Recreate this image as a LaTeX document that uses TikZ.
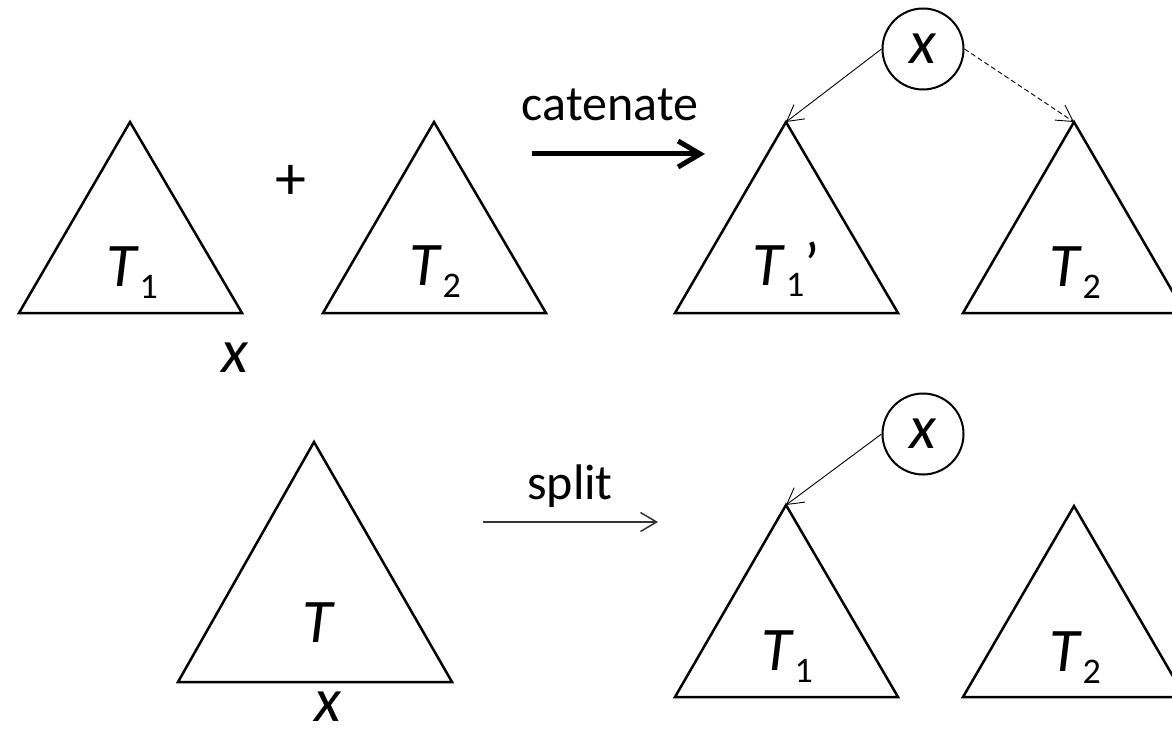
\documentclass[tikz,border=0pt]{standalone}
\usepackage{fontspec}
\setmainfont{Carlito}
\usetikzlibrary{arrows.meta}
\newcommand\Tsub[2][]{\textit{T}\kern1pt\lower12pt\hbox{\fontsize{36}{36}\selectfont #2}#1}
\begin{document}
\begin{tikzpicture}[x=1pt,y=-1pt,
  tri/.style={line width=2.5pt, line join=miter},
  lab/.style={font=\fontsize{62}{62}\selectfont, anchor=base, inner sep=0pt},
  ital/.style={font=\fontsize{62}{62}\selectfont\itshape, inner sep=0pt},
  word/.style={font=\fontsize{50}{50}\selectfont, anchor=base, inner sep=0pt},
  vert/.style={circle, draw, line width=2pt, minimum size=81pt, inner sep=0pt, font=\fontsize{62}{62}\selectfont\itshape},
  edge/.style={line width=0.9pt, -{Straight Barb[length=16pt,width=18pt]}},
  thinarrow/.style={line width=1.5pt, draw=black!80, -{Straight Barb[length=16pt,width=19pt]}},
  thickarrow/.style={line width=5pt, -{Straight Barb[length=22pt,width=26pt]}},
]
\clip (0,0) rectangle (1172,735);
\fill[white] (0,0) rectangle (1172,735);

% ---------- top row ----------
\coordinate (a1) at (130,122);
\draw[tri] (a1) -- (19,313) -- (242,313) -- cycle;
\node[lab] (l1) at (132,287) {\Tsub{1}};
\node[lab, anchor=center] (plus) at (291,182) {+};
\node[ital] (x1) at (235,358) {x};

\coordinate (a2) at (434,122);
\draw[tri] (a2) -- (323,313) -- (546,313) -- cycle;
\node[lab] (l2) at (435,286) {\Tsub{2}};

\node[word] (cat) at (610,121) {catenate};
\coordinate (cs) at (532,154);
\coordinate (ce) at (705,154);
\draw[thickarrow] (cs) -- (ce);

\coordinate (a3) at (786,122);
\draw[tri] (a3) -- (675,313) -- (898,313) -- cycle;
\node[lab] (l3) at (786,285) {\Tsub[’]{1}};

\coordinate (a4) at (1074,122);
\draw[tri] (a4) -- (963,313) -- (1185,313) -- cycle;
\node[lab] (l4) at (1075,287) {\Tsub{2}};

\node[vert] (c1) at (923,49) {x};
\draw[edge] (c1.west) -- (a3);
\draw[edge, dash pattern=on 5pt off 3pt] (c1.east) -- (a4);

% ---------- bottom row ----------
\coordinate (b1) at (314,442);
\draw[tri] (b1) -- (178,682) -- (452,682) -- cycle;
\node[lab] (lt) at (319,642) {\textit{T}};
\node[ital] (x2) at (328,707) {x};

\node[word] (spl) at (570,499) {split};
\coordinate (ss) at (483,522);
\coordinate (se) at (658,522);
\draw[thinarrow] (ss) -- (se);

\coordinate (b3) at (786,505);
\draw[tri] (b3) -- (675,697) -- (898,697) -- cycle;
\node[lab] (l5) at (787,670) {\Tsub{1}};

\coordinate (b4) at (1074,506);
\draw[tri] (b4) -- (963,697) -- (1185,697) -- cycle;
\node[lab] (l6) at (1075,671) {\Tsub{2}};

\node[vert] (c2) at (923,434) {x};
\draw[edge] (c2.west) -- (b3);
\end{tikzpicture}
\end{document}
